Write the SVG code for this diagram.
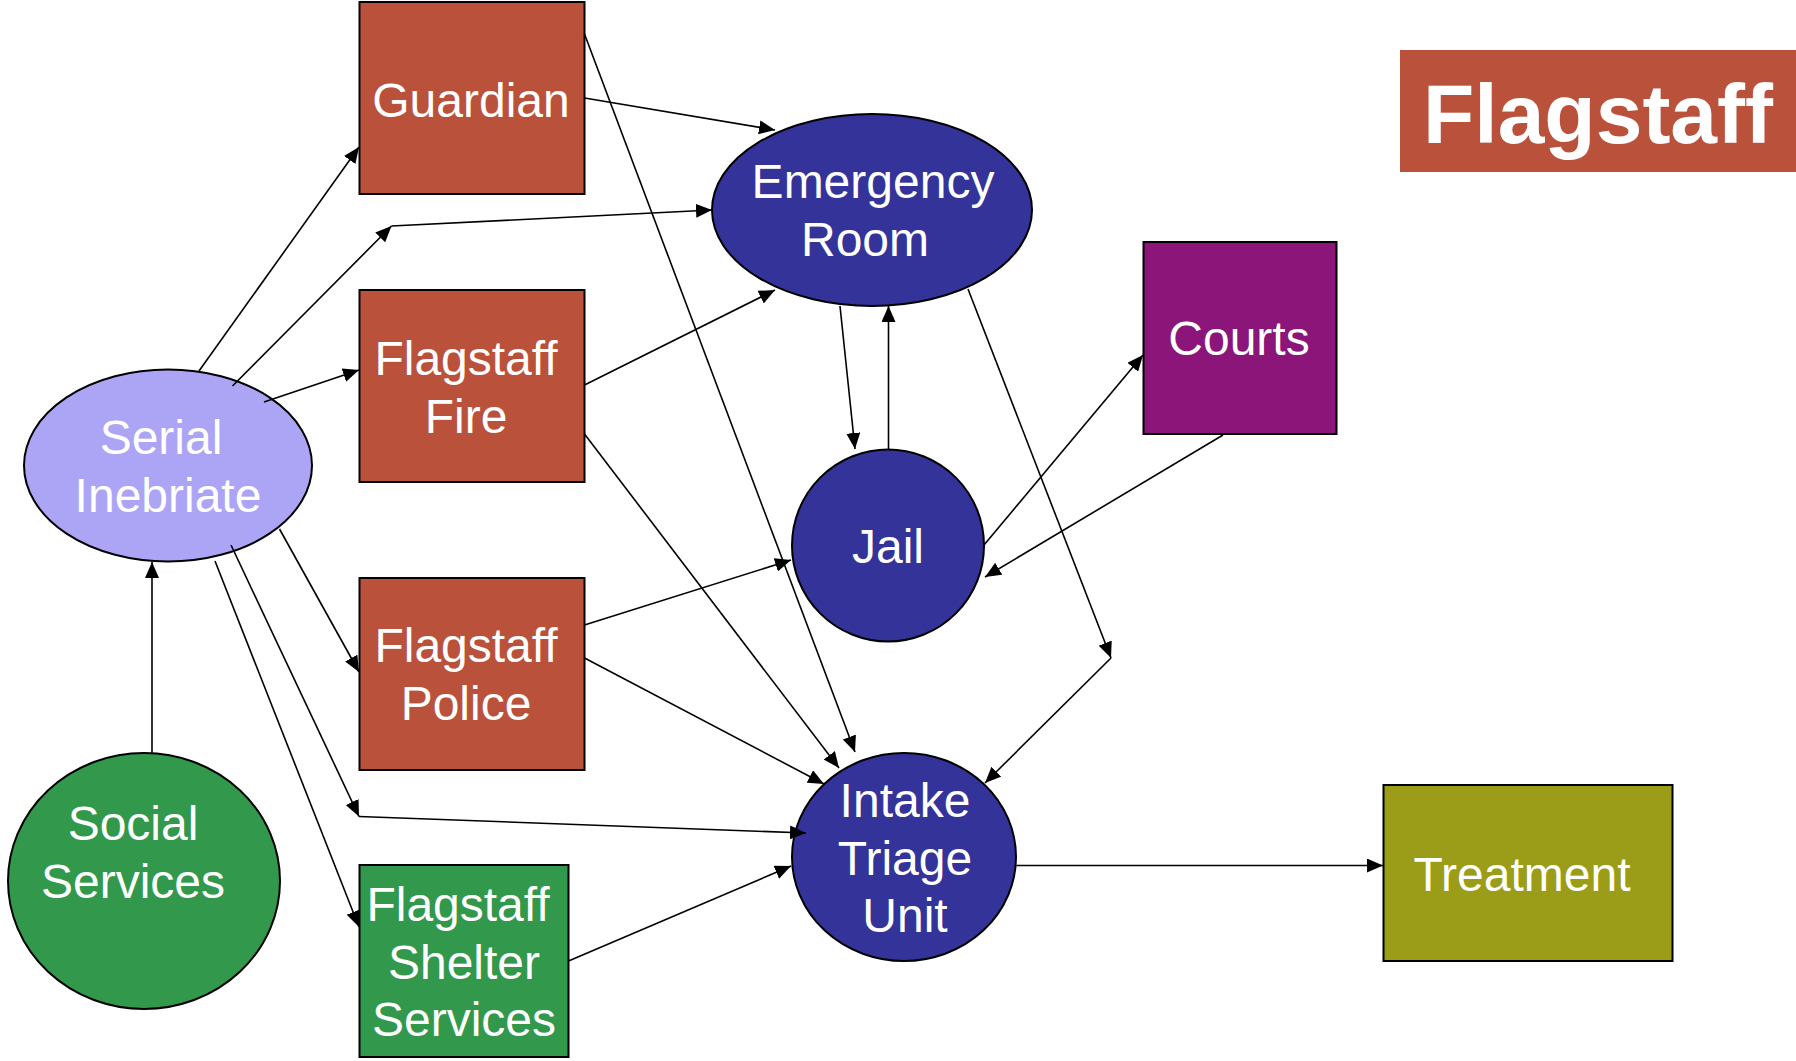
<svg xmlns="http://www.w3.org/2000/svg" width="1796" height="1061" viewBox="0 0 1796 1061">
<defs>
<style>
.t{font-family:"Liberation Sans",Arial,sans-serif;font-size:48px;fill:#fff;text-anchor:middle}
.red{fill:#BA513B;stroke:#000;stroke-width:2}
.blue{fill:#333399;stroke:#000;stroke-width:2}
.green{fill:#32984B;stroke:#000;stroke-width:2}
.c line{stroke:#000;stroke-width:1.6;fill:none}
.a{marker-end:url(#arr)}
</style>
<marker id="arr" viewBox="0 0 16 14" refX="16" refY="7" markerWidth="16" markerHeight="14" markerUnits="userSpaceOnUse" orient="auto"><path d="M0,0 L16,7 L0,14 z" fill="#000"/></marker>
</defs>
<rect width="1796" height="1061" fill="#fff"/>
<g id="title"><rect x="1400" y="50" width="396" height="122" fill="#BA513B"/><text x="1598" y="143" style="font-family:'Liberation Sans',Arial,sans-serif;font-size:84px;font-weight:bold;fill:#fff;text-anchor:middle">Flagstaff</text></g>
<g id="guardian"><rect class="red" x="359.5" y="2" width="225" height="192"/><text class="t" x="471" y="117">Guardian</text></g>
<g id="fire"><rect class="red" x="359.5" y="290" width="225" height="192"/><text class="t" x="466" y="375">Flagstaff</text><text class="t" x="466" y="433">Fire</text></g>
<g id="police"><rect class="red" x="359.5" y="578" width="225" height="192"/><text class="t" x="466" y="662">Flagstaff</text><text class="t" x="466" y="720">Police</text></g>
<g id="shelter"><rect class="green" x="359.5" y="865" width="209" height="192"/><text class="t" x="458" y="921">Flagstaff</text><text class="t" x="464" y="979">Shelter</text><text class="t" x="464" y="1036">Services</text></g>
<g id="courts"><rect x="1143.5" y="242" width="193" height="192" fill="#8B1579" stroke="#000" stroke-width="2"/><text class="t" x="1239" y="355">Courts</text></g>
<g id="treatment"><rect x="1383.5" y="785" width="289" height="176" fill="#9B9C17" stroke="#000" stroke-width="2"/><text class="t" x="1522" y="891">Treatment</text></g>
<g id="er"><ellipse class="blue" cx="872" cy="210" rx="160" ry="96"/><text class="t" x="873" y="198">Emergency</text><text class="t" x="865" y="256">Room</text></g>
<g id="jail"><ellipse class="blue" cx="888" cy="545.5" rx="96" ry="96"/><text class="t" x="888" y="563">Jail</text></g>
<g id="intake"><ellipse class="blue" cx="904" cy="857" rx="112" ry="104"/><text class="t" x="905" y="817">Intake</text><text class="t" x="905" y="875">Triage</text><text class="t" x="905" y="932">Unit</text></g>
<g id="serial"><ellipse cx="168" cy="465.5" rx="144" ry="96" fill="#ACA5F6" stroke="#000" stroke-width="2"/><text class="t" x="161" y="454">Serial</text><text class="t" x="168" y="512">Inebriate</text></g>
<g id="social"><ellipse class="green" cx="144" cy="881" rx="136" ry="128"/><text class="t" x="133" y="840">Social</text><text class="t" x="133" y="898">Services</text></g>
<g id="connectors" class="c">
<line class="a" x1="199" y1="371" x2="359" y2="147"/>
<line class="a" x1="232.5" y1="386" x2="391.5" y2="226"/>
<line class="a" x1="391.5" y1="226" x2="712" y2="210"/>
<line class="a" x1="264" y1="402" x2="359" y2="370"/>
<line class="a" x1="584.5" y1="98" x2="775" y2="130"/>
<line class="a" x1="584.5" y1="34" x2="855" y2="752"/>
<line class="a" x1="584.5" y1="434" x2="839" y2="768"/>
<line class="a" x1="584.5" y1="385" x2="775" y2="290"/>
<line class="a" x1="840" y1="306" x2="855" y2="449"/>
<line class="a" x1="888.5" y1="449" x2="888.5" y2="306"/>
<line class="a" x1="968" y1="289" x2="1111" y2="658"/>
<line class="a" x1="1111" y1="658" x2="985" y2="783"/>
<line class="a" x1="984" y1="545" x2="1143" y2="355"/>
<line class="a" x1="1223" y1="435" x2="985" y2="577"/>
<line class="a" x1="279.5" y1="529" x2="359" y2="672"/>
<line class="a" x1="231" y1="545" x2="359" y2="816.5"/>
<line class="a" x1="359" y1="816.5" x2="806" y2="833"/>
<line class="a" x1="215" y1="561" x2="359" y2="927"/>
<line class="a" x1="584.5" y1="625" x2="791" y2="560"/>
<line class="a" x1="584.5" y1="658" x2="824" y2="784"/>
<line class="a" x1="568.5" y1="961" x2="791" y2="866"/>
<line class="a" x1="152" y1="753" x2="152" y2="562"/>
<line class="a" x1="1016.5" y1="865.5" x2="1383" y2="865.5"/>
</g>
</svg>
